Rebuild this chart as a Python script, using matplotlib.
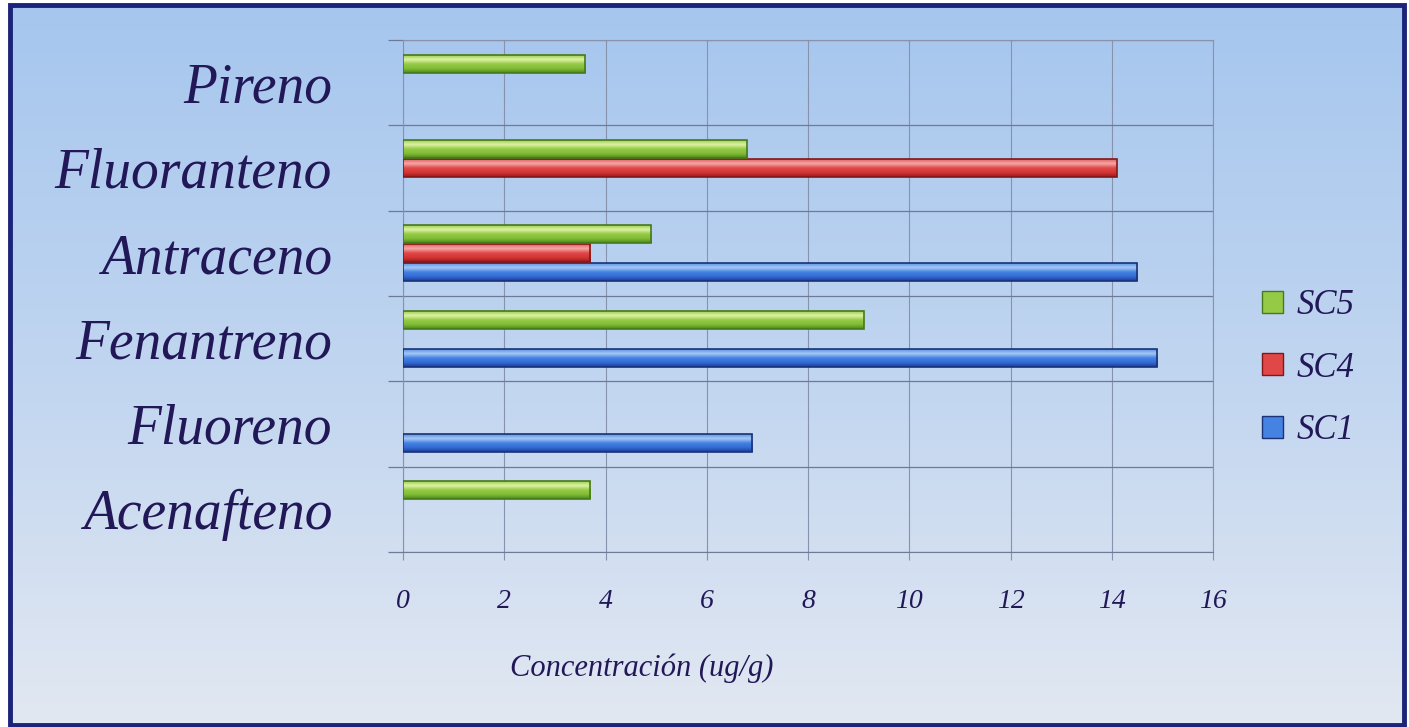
import numpy as np
import matplotlib
matplotlib.use('Agg')
import matplotlib.pyplot as plt
from matplotlib.colors import LinearSegmentedColormap
from matplotlib.patches import Rectangle, Patch

# concentraciones por compuesto (de abajo hacia arriba)
compuestos = ['Acenafteno', 'Fluoreno', 'Fenantreno', 'Antraceno', 'Fluoranteno', 'Pireno']
sc1 = [0, 6.9, 14.9, 14.5, 0, 0]
sc4 = [0, 0, 0, 3.7, 14.1, 0]
sc5 = [3.7, 0, 9.1, 4.9, 6.8, 3.6]
xticks = [0, 2, 4, 6, 8, 10, 12, 14, 16]

txt_color = '#221858'
plt.rcParams['font.family'] = ['Liberation Serif', 'DejaVu Serif']
plt.rcParams['font.style'] = 'italic'

W, H = 1409, 727
fig = plt.figure(figsize=(W / 100, H / 100), dpi=100, facecolor='white')

# fondo degradado con marco azul oscuro
bg = fig.add_axes([0, 0, 1, 1], zorder=-10)
bg.set_xlim(0, W)
bg.set_ylim(H, 0)
bg.axis('off')
grad = np.linspace(0, 1, 256).reshape(-1, 1)
bg_cmap = LinearSegmentedColormap.from_list('bg', ['#a6c6ee', '#c0d5f0', '#e2e8f2'])
bg.imshow(grad, cmap=bg_cmap, aspect='auto', extent=[10, 1404, 725, 5], origin='upper')
bg.add_patch(Rectangle((10, 5), 1394, 720, fill=False, edgecolor='#1b2478', lw=3.5))

ax = fig.add_axes([403 / W, 1 - 552 / H, 810 / W, 512 / H])
ax.patch.set_alpha(0)

colores = {
    'SC1': ['#1c3a94', '#336cd4', '#4582e2', '#a4c8f6', '#5a90e0'],
    'SC4': ['#961a1a', '#d43434', '#e04848', '#f4a6a6', '#e06060'],
    'SC5': ['#4a861c', '#82bc36', '#94ca46', '#def2a4', '#9ccc50'],
}
bordes = {'SC1': '#1a3278', 'SC4': '#841616', 'SC5': '#467a1a'}

alto = 0.21
series = [('SC1', sc1, -0.222), ('SC4', sc4, 0.0), ('SC5', sc5, 0.222)]
y = np.arange(len(compuestos))
for nombre, vals, off in series:
    vals = np.array(vals, dtype=float)
    mask = vals > 0
    bars = ax.barh(y[mask] + off, vals[mask], height=alto, facecolor='none',
                   edgecolor=bordes[nombre], lw=1.2, zorder=4)
    cmap = LinearSegmentedColormap.from_list(nombre, colores[nombre])
    for b in bars:
        x0, y0 = b.get_x(), b.get_y()
        im = ax.imshow(grad, cmap=cmap, aspect='auto', origin='lower', zorder=3,
                       extent=[x0, x0 + b.get_width(), y0, y0 + b.get_height()])
        im.set_clip_path(b)

ax.set_xlim(0, 16)
ax.set_ylim(-0.5, len(compuestos) - 0.5)
ax.set_aspect('auto')

grid_c = '#8792ad'
ax.set_xticks(xticks)
ax.set_xticklabels([str(t) for t in xticks], fontsize=20, color=txt_color)
ax.tick_params(axis='x', direction='out', length=6, width=0.8, color=grid_c, pad=21)
ax.grid(axis='x', color=grid_c, lw=0.8, zorder=1)

# separadores entre compuestos
ax.set_yticks(np.arange(-0.5, len(compuestos), 1.0))
ax.set_yticklabels([])
ax.tick_params(axis='y', which='major', direction='out', length=11, width=0.9, color='#6f7a96')
ax.grid(axis='y', which='major', color='#6f7a96', lw=0.9, zorder=1)
ax.set_yticks(y, minor=True)
ax.set_yticklabels(compuestos, minor=True, fontsize=40, color=txt_color)
ax.tick_params(axis='y', which='minor', length=0, pad=51)
for s in ax.spines.values():
    s.set_color(grid_c)
    s.set_linewidth(0.8)
ax.spines['bottom'].set_color('#6f7a96')

fig.text(642 / W, 1 - 668 / H, 'Concentración (ug/g)', ha='center', va='center',
         fontsize=22, color=txt_color)

handles = [Patch(facecolor=colores[n][2], edgecolor=bordes[n], lw=1) for n in ['SC5', 'SC4', 'SC1']]
leg = fig.legend(handles, ['SC5', 'SC4', 'SC1'], loc='center left',
                 bbox_to_anchor=(1231 / W, 1 - 368 / H), frameon=False, fontsize=25,
                 labelspacing=0.85, handlelength=0.6, handleheight=0.6, handletextpad=0.4)
for t in leg.get_texts():
    t.set_color(txt_color)

fig.savefig('out.png', dpi=100, facecolor='white')
